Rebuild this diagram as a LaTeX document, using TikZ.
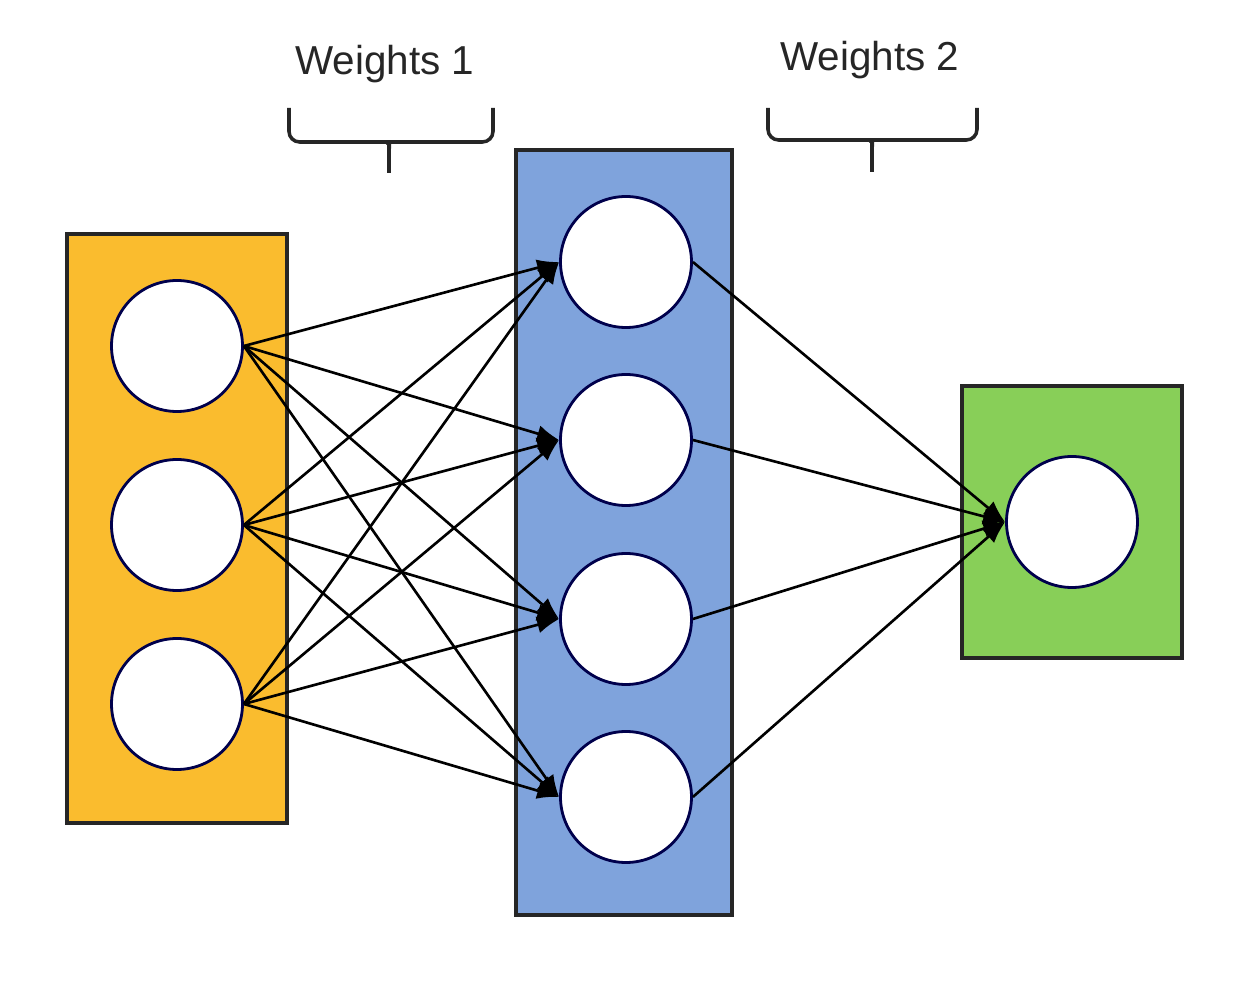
\documentclass[tikz,border=0pt]{standalone}
\usepackage{fontspec}
\setsansfont{Liberation Sans}
\usepackage{xcolor}
\usepackage{tikz}
\usetikzlibrary{arrows.meta}
\definecolor{inputOrange}{RGB}{250,188,46}
\definecolor{hiddenBlue}{RGB}{127,163,220}
\definecolor{outputGreen}{RGB}{136,207,88}

\begin{document}
\begin{tikzpicture}[
  layer box/.style={draw=black!85, line width=1.1pt, inner sep=0pt},
  neuron/.style={circle, draw=black!70!blue, line width=0.8pt, fill=white, minimum size=1.31cm, inner sep=0pt},
  wgt/.style={-{Latex[length=2.2mm, width=1.7mm]}, line width=0.75pt, black},
  brace/.style={line width=1pt, black!85, rounded corners=3pt},
  title/.style={font=\sffamily\fontsize{11.5}{14}\selectfont, text=black!85}
]
  \useasboundingbox (0,0) rectangle (12.46,-9.82);

  % Layers
  \node[layer box, fill=inputOrange, minimum width=2.2cm, minimum height=5.89cm] (inputlayer) at (1.77,-5.285) {};
  \node[layer box, fill=hiddenBlue, minimum width=2.16cm, minimum height=7.65cm] (hiddenlayer) at (6.24,-5.325) {};
  \node[layer box, fill=outputGreen, minimum width=2.2cm, minimum height=2.72cm] (outputlayer) at (10.72,-5.22) {};

  % Neurons
  \node[neuron] (in1) at (1.77,-3.46) {};
  \node[neuron] (in2) at (1.77,-5.25) {};
  \node[neuron] (in3) at (1.77,-7.04) {};

  \node[neuron] (hid1) at (6.26,-2.62) {};
  \node[neuron] (hid2) at (6.26,-4.40) {};
  \node[neuron] (hid3) at (6.26,-6.19) {};
  \node[neuron] (hid4) at (6.26,-7.97) {};

  \node[neuron] (out1) at (10.72,-5.22) {};

  % Weights 1
  \draw[wgt] (in1.east) -- (hid1.west);
  \draw[wgt] (in1.east) -- (hid2.west);
  \draw[wgt] (in1.east) -- (hid3.west);
  \draw[wgt] (in1.east) -- (hid4.west);
  \draw[wgt] (in2.east) -- (hid1.west);
  \draw[wgt] (in2.east) -- (hid2.west);
  \draw[wgt] (in2.east) -- (hid3.west);
  \draw[wgt] (in2.east) -- (hid4.west);
  \draw[wgt] (in3.east) -- (hid1.west);
  \draw[wgt] (in3.east) -- (hid2.west);
  \draw[wgt] (in3.east) -- (hid3.west);
  \draw[wgt] (in3.east) -- (hid4.west);

  % Weights 2
  \draw[wgt] (hid1.east) -- (out1.west);
  \draw[wgt] (hid2.east) -- (out1.west);
  \draw[wgt] (hid3.east) -- (out1.west);
  \draw[wgt] (hid4.east) -- (out1.west);

  % Labels and braces
  \node[title] (wlabel1) at (3.85,-0.64) {Weights 1};
  \node[title] (wlabel2) at (8.70,-0.60) {Weights 2};

  \draw[brace] (2.89,-1.08) |- (3.82,-1.42) to[out=0,in=90] (3.89,-1.52) -- (3.89,-1.73);
  \draw[brace] (4.93,-1.08) |- (3.96,-1.42) to[out=180,in=90] (3.89,-1.52);
  \draw[brace] (7.68,-1.08) |- (8.65,-1.40) to[out=0,in=90] (8.72,-1.50) -- (8.72,-1.72);
  \draw[brace] (9.77,-1.08) |- (8.79,-1.40) to[out=180,in=90] (8.72,-1.50);

\end{tikzpicture}
\end{document}
